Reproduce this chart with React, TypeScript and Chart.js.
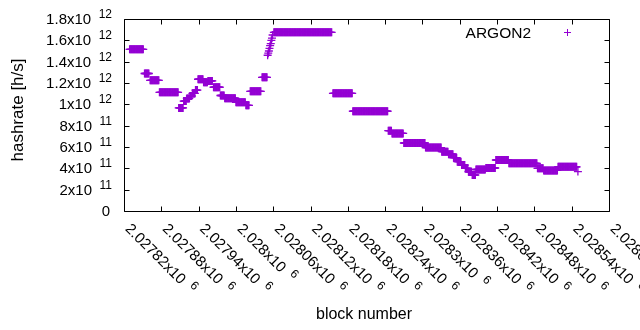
import { useEffect, useRef } from 'react';
import { Chart, registerables } from 'chart.js';

Chart.register(...registerables);

// Runs of constant hash rate: first block, last block, rate [h/s]
const BLOCK_START = [
  2027829, 2027853, 2027862, 2027877, 2027908, 2027916, 2027921, 2027926, 2027930, 2027935,
  2027939, 2027948, 2027955, 2027964, 2027975, 2027982, 2028000, 2028016, 2028023, 2028042,
  2028051, 2028052, 2028053, 2028054, 2028055, 2028056, 2028057, 2028058, 2028059, 2028061,
  2028156, 2028188, 2028245, 2028251, 2028270, 2028305, 2028331, 2028342, 2028350, 2028356,
  2028363, 2028369, 2028374, 2028380, 2028386, 2028402, 2028418, 2028439, 2028485, 2028495,
  2028518, 2028550,
];
const BLOCK_END = [
  2027851, 2027860, 2027876, 2027907, 2027915, 2027920, 2027925, 2027929, 2027934, 2027938,
  2027947, 2027954, 2027962, 2027974, 2027981, 2027999, 2028015, 2028021, 2028040, 2028050,
  2028051, 2028052, 2028053, 2028054, 2028055, 2028056, 2028057, 2028058, 2028059, 2028154,
  2028187, 2028244, 2028250, 2028269, 2028304, 2028330, 2028341, 2028349, 2028355, 2028362,
  2028368, 2028373, 2028379, 2028385, 2028401, 2028417, 2028438, 2028484, 2028494, 2028517,
  2028548, 2028550,
];
const HASHRATE = [
  1.516e12, 1.289e12, 1.225e12, 1.113e12, 0.966e12, 1.031e12, 1.055e12, 1.078e12, 1.102e12, 1.134e12,
  1.235e12, 1.207e12, 1.219e12, 1.16e12, 1.083e12, 1.057e12, 1.019e12, 0.991e12, 1.122e12, 1.253e12,
  1.46e12, 1.48e12, 1.5e12, 1.525e12, 1.55e12, 1.57e12, 1.6e12, 1.62e12, 1.65e12, 1.675e12,
  1.103e12, 0.935e12, 0.753e12, 0.727e12, 0.6375e12, 0.595e12, 0.556e12, 0.532e12, 0.5e12, 0.462e12,
  0.431e12, 0.4e12, 0.368e12, 0.3375e12, 0.389e12, 0.403e12, 0.478e12, 0.447e12, 0.4e12, 0.38e12,
  0.414e12, 0.37e12,
];
const SERIES_NAME = 'ARGON2';

const X_TICKS = [
  2027820, 2027880, 2027940, 2028000, 2028060, 2028120, 2028180,
  2028240, 2028300, 2028360, 2028420, 2028480, 2028540, 2028600,
];
const X_TICK_LABELS = [
  '2.02782x10', '2.02788x10', '2.02794x10', '2.028x10', '2.02806x10', '2.02812x10', '2.02818x10',
  '2.02824x10', '2.0283x10', '2.02836x10', '2.02842x10', '2.02848x10', '2.02854x10', '2.0286x10',
];
const X_TICK_EXP = '6';

const Y_TICKS = [0, 2e11, 4e11, 6e11, 8e11, 1e12, 1.2e12, 1.4e12, 1.6e12, 1.8e12];
const Y_TICK_LABELS = ['0', '2x10', '4x10', '6x10', '8x10', '1x10', '1.2x10', '1.4x10', '1.6x10', '1.8x10'];
const Y_TICK_EXPS = ['', '11', '11', '11', '11', '12', '12', '12', '12', '12'];

const X_TITLE = 'block number';
const Y_TITLE = 'hashrate [h/s]';

const COLOR = '#9400d3';
const FONT_FAMILY = '"Liberation Sans", Arial, sans-serif';
const MAIN_FONT = `15px ${FONT_FAMILY}`;
const SUP_FONT = `12px ${FONT_FAMILY}`;
const LEGEND_FONT = `15.5px ${FONT_FAMILY}`;
const XTITLE_FONT = `16px ${FONT_FAMILY}`;
const YTITLE_FONT = `17px ${FONT_FAMILY}`;

function buildPoints() {
  const pts: { x: number; y: number }[] = [];
  for (let i = 0; i < BLOCK_START.length; i++) {
    for (let b = BLOCK_START[i]; b <= BLOCK_END[i]; b++) {
      pts.push({ x: b, y: HASHRATE[i] });
    }
  }
  return pts;
}

const gnuplotFrame = {
  id: 'gnuplotFrame',
  afterDraw(chart: any) {
    const ctx: CanvasRenderingContext2D = chart.ctx;
    const { left, right, top, bottom } = chart.chartArea;
    const xs = chart.scales.x;
    const ys = chart.scales.y;
    const L = Math.round(left) + 0.5;
    const R = Math.round(right) + 0.5;
    const T = Math.round(top) + 0.5;
    const B = Math.round(bottom) + 0.5;
    const tl = 5;
    ctx.save();
    ctx.strokeStyle = '#000';
    ctx.lineWidth = 1;
    ctx.beginPath();
    ctx.rect(L, T, R - L, B - T);
    Y_TICKS.forEach((v) => {
      const py = Math.round(ys.getPixelForValue(v)) + 0.5;
      ctx.moveTo(L, py);
      ctx.lineTo(L + tl, py);
      ctx.moveTo(R, py);
      ctx.lineTo(R - tl, py);
    });
    X_TICKS.forEach((v) => {
      const px = Math.round(xs.getPixelForValue(v)) + 0.5;
      ctx.moveTo(px, B);
      ctx.lineTo(px, B - tl);
      ctx.moveTo(px, T);
      ctx.lineTo(px, T + tl);
    });
    ctx.stroke();

    ctx.fillStyle = '#000';
    ctx.textBaseline = 'alphabetic';
    ctx.textAlign = 'left';
    const yRight = 112;
    Y_TICKS.forEach((v, i) => {
      const py = ys.getPixelForValue(v);
      ctx.font = MAIN_FONT;
      const mw = ctx.measureText(Y_TICK_LABELS[i]).width;
      ctx.font = SUP_FONT;
      const sup = Y_TICK_EXPS[i];
      const gap = sup ? 7.5 : 0;
      const sw = sup ? ctx.measureText(sup).width : 0;
      const x0 = (sup ? yRight : yRight - 2) - sw - gap - mw;
      ctx.font = MAIN_FONT;
      ctx.fillText(Y_TICK_LABELS[i], x0, py + 5);
      if (sup) {
        ctx.font = SUP_FONT;
        ctx.fillText(sup, x0 + mw + gap, py - 1);
      }
    });
    X_TICKS.forEach((v, i) => {
      const px = xs.getPixelForValue(v);
      ctx.save();
      ctx.translate(px + 4, 226);
      ctx.rotate(Math.PI / 4);
      ctx.font = MAIN_FONT;
      const mw = ctx.measureText(X_TICK_LABELS[i]).width;
      ctx.fillText(X_TICK_LABELS[i], 0, 5);
      ctx.font = SUP_FONT;
      ctx.fillText(X_TICK_EXP, mw + 7.5, -1);
      ctx.restore();
    });
    ctx.textAlign = 'center';
    ctx.textBaseline = 'middle';
    ctx.font = XTITLE_FONT;
    ctx.fillText(X_TITLE, 364, 315);
    ctx.save();
    ctx.translate(18, 110);
    ctx.rotate(-Math.PI / 2);
    ctx.font = YTITLE_FONT;
    ctx.fillText(Y_TITLE, 0, 0);
    ctx.restore();
    ctx.font = LEGEND_FONT;
    ctx.textAlign = 'right';
    ctx.textBaseline = 'alphabetic';
    ctx.fillText(SERIES_NAME, 531, 37.5);
    ctx.strokeStyle = COLOR;
    ctx.beginPath();
    ctx.moveTo(564, 32.5);
    ctx.lineTo(571, 32.5);
    ctx.moveTo(567.5, 29);
    ctx.lineTo(567.5, 36);
    ctx.stroke();
    ctx.restore();
  },
};

export default function App() {
  const ref = useRef<HTMLCanvasElement | null>(null);
  useEffect(() => {
    document.body.style.margin = '0';
    if (!ref.current) return;
    const chart = new Chart(ref.current, {
      type: 'scatter',
      data: {
        datasets: [
          {
            label: SERIES_NAME,
            data: buildPoints(),
            showLine: false,
            pointStyle: 'cross',
            pointRadius: 4,
            pointBorderWidth: 1.3,
            borderColor: COLOR,
            backgroundColor: COLOR,
          },
        ],
      },
      options: {
        animation: false,
        responsive: false,
        devicePixelRatio: 1,
        events: [],
        layout: { padding: { left: 124, right: 31, top: 19, bottom: 119 } },
        plugins: { legend: { display: false }, tooltip: { enabled: false } },
        scales: {
          x: { type: 'linear', display: false, min: 2027820, max: 2028600 },
          y: { type: 'linear', display: false, min: 0, max: 1.8e12 },
        },
      },
      plugins: [gnuplotFrame],
    });
    return () => chart.destroy();
  }, []);
  return (
    <div style={{ width: 640, height: 330, background: '#fff' }}>
      <canvas ref={ref} width={640} height={330} />
    </div>
  );
}
